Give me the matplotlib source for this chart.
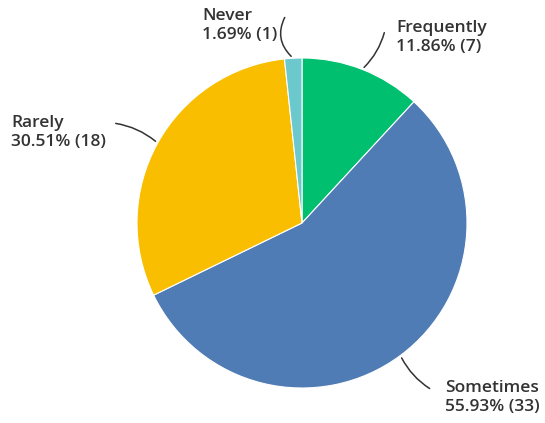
import numpy as np
import matplotlib.pyplot as plt

labels = ['Frequently', 'Sometimes', 'Rarely', 'Never']
counts = [7, 33, 18, 1]
percents = [11.86, 55.93, 30.51, 1.69]
colors = ['#00BF6F', '#507CB6', '#F9BE00', '#6BC8CD']

W, H = 545, 423
cx, cy, r = 302, H - 223, 165

fig = plt.figure(figsize=(W / 100, H / 100), dpi=100)
ax = fig.add_axes([0, 0, 1, 1])

wedges, _ = ax.pie(counts, colors=colors, startangle=90, counterclock=False,
                   center=(cx, cy), radius=r,
                   wedgeprops=dict(linewidth=0.8, edgecolor='white'))
ax.set_xlim(0, W)
ax.set_ylim(0, H)
ax.set_aspect('equal')
ax.axis('off')

# label text top-left (pixels from top) and leader line outer ends
text_pos = {'Frequently': (396, 20), 'Sometimes': (445, 380),
            'Rarely': (11, 115), 'Never': (202, 8)}
line_end = {'Frequently': (385, 30), 'Sometimes': (432, 390),
            'Rarely': (113, 123), 'Never': (286, 15)}
rads = {'Frequently': -0.15, 'Sometimes': -0.15, 'Rarely': -0.15, 'Never': 0.4}

for w, lab, c, p in zip(wedges, labels, counts, percents):
    ang = np.deg2rad((w.theta1 + w.theta2) / 2)
    px, py = cx + r * np.cos(ang), cy + r * np.sin(ang)
    tx, ty = text_pos[lab]
    ax.text(tx, H - ty, '%s\n%.2f%% (%d)' % (lab, p, c), ha='left', va='top',
            fontsize=12.5, fontweight='semibold', color='#333333',
            family='Open Sans', linespacing=1.28)
    ex, ey = line_end[lab]
    ax.annotate('', xy=(px, py), xytext=(ex, H - ey),
                arrowprops=dict(arrowstyle='-', color='#333333', lw=1.1,
                                connectionstyle='arc3,rad=%s' % rads[lab]))

fig.savefig('out.png', dpi=100)
